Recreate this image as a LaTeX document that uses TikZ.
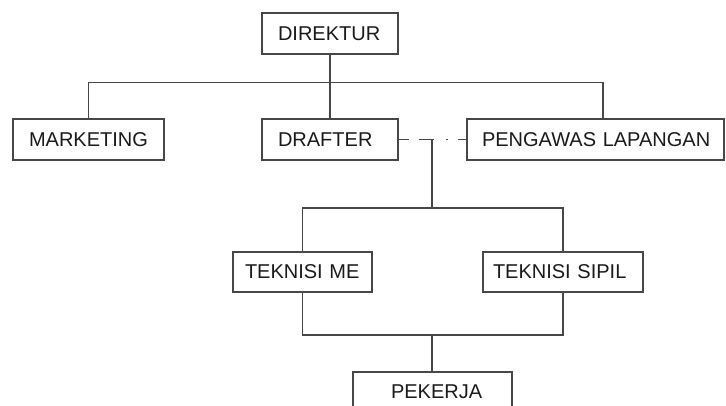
\documentclass[tikz,border=0pt]{standalone}
\usepackage{fontspec}
\setmainfont{Liberation Sans}
\definecolor{linegray}{HTML}{474747}
\definecolor{inkgray}{HTML}{1A1A1A}
\tikzset{
  unit/.style n args={3}{draw=linegray, line width=1.3pt, text=inkgray,
    font=\fontsize{20}{24}\selectfont, align=left,
    minimum height=#2, inner ysep=0pt, inner xsep=#3,
    text width=#1-2*#3},
  link/.style={draw=linegray, line width=1.3pt},
}
\begin{document}
\begin{tikzpicture}[x=1pt, y=-1pt]
  \useasboundingbox (0,0) rectangle (726,405);
  \clip (0,0) rectangle (726,405);

  % positions
  \node[unit={136pt}{41pt}{16pt}] (dir) at (330,33.5)  {DIREKTUR};
  \node[unit={151pt}{41pt}{16pt}] (mkt) at (88.5,139.5) {MARKETING};
  \node[unit={136pt}{41pt}{16pt}] (drf) at (330,139.5) {DRAFTER};
  \node[unit={257pt}{41pt}{15pt}] (pgw) at (595.5,139.5) {\mbox{PENGAWAS LAPANGAN}};
  \node[unit={139pt}{40pt}{12pt}] (tme) at (302.5,272) {TEKNISI ME};
  \node[unit={160pt}{40pt}{10pt}] (tsp) at (563,272) {TEKNISI SIPIL};
  \node[unit={159pt}{40pt}{38pt}] (pkj) at (432.5,392) {PEKERJA};

  % bus points
  \coordinate (topbus) at (330,82.5);
  \coordinate (pgwin) at (603,119);
  \coordinate (jn) at (432,139.5);
  \coordinate (midbus) at (432,208);
  \coordinate (lowbus) at (432,335);

  % top level
  \draw[link] (dir.south) -- (drf.north);
  \draw[link] (mkt.north) |- (topbus) -| (pgwin);

  % coordination line between drafter and field supervisor
  \draw[link, dash pattern=on 10pt off 10pt on 15pt off 12pt on 2pt off 10pt on 10pt]
    (drf.east) -- (pgw.west);
  \draw[link] (jn) -- (midbus);

  % technicians
  \draw[link] (tme.north) |- (midbus) -| (tsp.north);
  \draw[link] (tme.south) |- (lowbus) -| (tsp.south);
  \draw[link] (lowbus) -- (lowbus |- pkj.north);
\end{tikzpicture}
\end{document}
